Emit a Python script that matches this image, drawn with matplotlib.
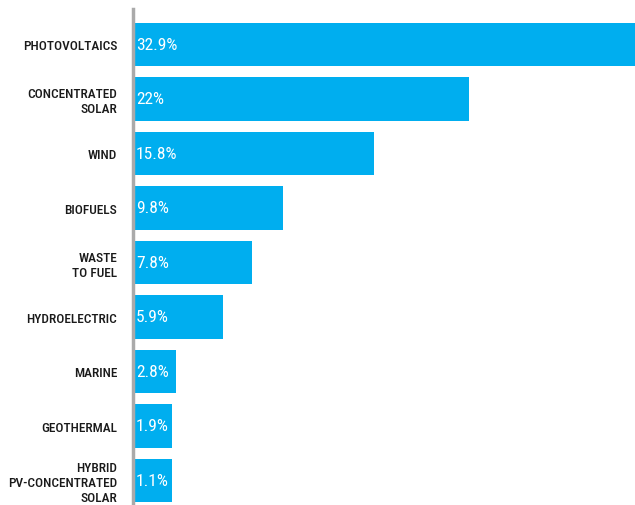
import matplotlib.pyplot as plt
from matplotlib import font_manager
from matplotlib.patches import Rectangle

sources = ["PHOTOVOLTAICS", "CONCENTRATED\nSOLAR", "WIND", "BIOFUELS", "WASTE\nTO FUEL",
           "HYDROELECTRIC", "MARINE", "GEOTHERMAL", "HYBRID\nPV-CONCENTRATED\nSOLAR"]
shares = [32.9, 22, 15.8, 9.8, 7.8, 5.9, 2.8, 1.9, 1.1]
share_labels = ["32.9%", "22%", "15.8%", "9.8%", "7.8%", "5.9%", "2.8%", "1.9%", "1.1%"]

names = {f.name for f in font_manager.fontManager.ttflist}
family = next((f for f in ["Roboto Condensed", "Liberation Sans Narrow", "Roboto"] if f in names),
              "DejaVu Sans")
plt.rcParams["font.family"] = [family, "DejaVu Sans"]

blue = "#00aeef"
bar_h = 0.79

fig = plt.figure(figsize=(6.35, 5.06), dpi=100)
ax = fig.add_axes([133 / 635, 0, 502 / 635, 496 / 506])

y = list(range(len(sources)))
ax.barh(y, shares, height=bar_h, color=blue, zorder=2)

ax.set_xlim(0, 32.9)
ax.set_ylim(8.45, -0.651)
ax.set_yticks(y)
ax.set_yticklabels(sources, fontsize=9.6, color="#1a1a1a", linespacing=1.2,
                   fontweight="medium")
ax.tick_params(axis="y", length=0, pad=11.5)
ax.set_xticks([])
for s in ["top", "right", "bottom"]:
    ax.spines[s].set_visible(False)
ax.spines["left"].set_color("#aaaaaa")
ax.spines["left"].set_linewidth(2.5)
ax.spines["left"].set_zorder(4)

# value labels; short bars get a backing strip so the white text stays readable
renderer = fig.canvas.get_renderer()
inv = ax.transData.inverted()
for yi, v, lab in zip(y, shares, share_labels):
    t = ax.text(0.2, yi, lab, color="white", fontsize=12.5, va="center", ha="left",
                zorder=3)
    bb = t.get_window_extent(renderer)
    x_end = inv.transform((bb.x1 + 3, 0))[0]
    if x_end > v:
        ax.add_patch(Rectangle((0, yi - bar_h / 2), x_end, bar_h, color=blue,
                               lw=0, zorder=2))

fig.savefig("out.png", dpi=100)
